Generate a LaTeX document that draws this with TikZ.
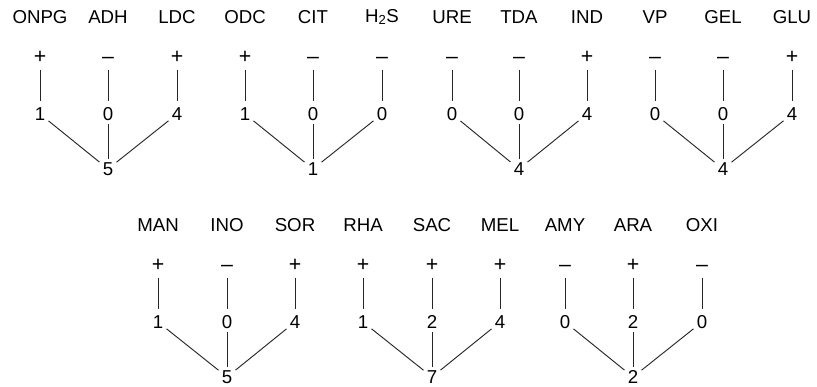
\documentclass[tikz,border=0pt]{standalone}
\usepackage{fontspec}
\setmainfont{Liberation Sans}
\begin{document}
\begin{tikzpicture}[x=0.75pt,y=-0.75pt,
  lbl/.style={font=\fontsize{14}{16}\selectfont,inner sep=0pt},
  val/.style={font=\fontsize{14}{16}\selectfont,inner sep=0pt,text height=10pt,text depth=0pt,outer sep=2.5pt},
  sgn/.style={val,font=\fontsize{16}{18}\selectfont},
  ln/.style={draw=black!85,line width=0.7pt}]
\useasboundingbox (0,0) rectangle (817,386);
% one group: three tests, signs, scores and their sum
\foreach \g/\xa/\xb/\xc/\yy/\la/\lb/\lc/\sa/\sb/\sc/\na/\nb/\nc/\tot in {
  a/40/108/177/0/ONPG/ADH/LDC/+/--/+/1/0/4/5,
  b/245/313/382/0/ODC/CIT/{H\textsubscript{2}S}/+/--/--/1/0/0/1,
  c/452/519/587/0/URE/TDA/IND/--/--/+/0/0/4/4,
  d/655/723/792/0/VP/GEL/GLU/--/--/+/0/0/4/4,
  e/158/227/295/208/MAN/INO/SOR/+/--/+/1/0/4/5,
  f/363/432/500/208/RHA/SAC/MEL/+/+/+/1/2/4/7,
  g/565/633/702/208/AMY/ARA/OXI/--/+/--/0/2/0/2}
{
  \node[lbl] (l\g1) at (\xa,17+\yy) {\la};
  \node[lbl] (l\g2) at (\xb,17+\yy) {\lb};
  \node[lbl] (l\g3) at (\xc,17+\yy) {\lc};
  \node[sgn] (s\g1) at (\xa,57+\yy) {\sa};
  \node[sgn] (s\g2) at (\xb,57+\yy) {\sb};
  \node[sgn] (s\g3) at (\xc,57+\yy) {\sc};
  \node[val] (n\g1) at (\xa,114+\yy) {\na};
  \node[val] (n\g2) at (\xb,114+\yy) {\nb};
  \node[val] (n\g3) at (\xc,114+\yy) {\nc};
  \node[val] (t\g) at (\xb,169+\yy) {\tot};
  \foreach \i in {1,2,3}
    \draw[ln,shorten <=2pt,shorten >=2pt] (s\g\i) -- (n\g\i);
  \draw[ln] (n\g1) -- (t\g);
  \draw[ln] (n\g2) -- (t\g);
  \draw[ln] (n\g3) -- (t\g);
}
\end{tikzpicture}
\end{document}
